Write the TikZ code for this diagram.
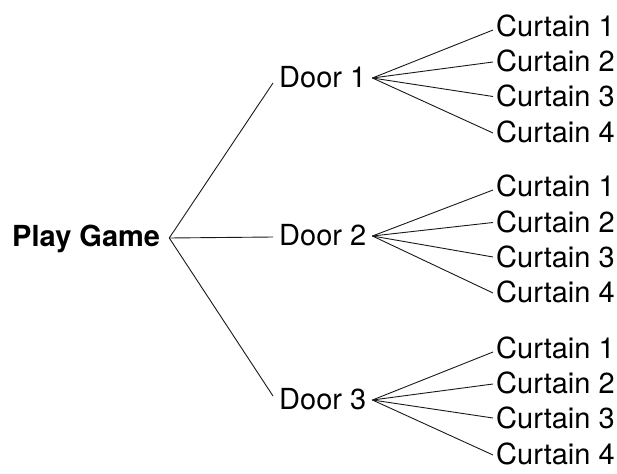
\documentclass[tikz,border=0pt]{standalone}
\usepackage{fontspec}
\setmainfont{TeX Gyre Heros}
\begin{document}
\begin{tikzpicture}[x=1pt,y=-1pt,
  lbl/.style={inner sep=0pt, anchor=west, text height=21pt, text depth=0pt, font=\fontsize{29}{31}\selectfont},
  rootlbl/.style={lbl, font=\fontsize{29}{31}\selectfont\bfseries},
  link/.style={line width=0.9pt, black!90}]
\useasboundingbox (0,0) rectangle (617,473);
\node[rootlbl] (play) at (12,236) {Play Game};
\node[lbl] (d1) at (279,77) {Door 1};
\node[lbl] (d2) at (279,235) {Door 2};
\node[lbl] (d3) at (279,399) {Door 3};
\coordinate (pf) at ([xshift=9pt,yshift=-2pt]play.east);
\draw[link] (pf) -- ([xshift=-6pt,yshift=-6pt]d1.west);
\draw[link] (pf) -- ([xshift=-6pt,yshift=-2pt]d2.west);
\draw[link] (pf) -- ([xshift=-6pt,yshift=3pt]d3.west);
% Door 1 curtains
\node[lbl] (c11) at (496,26) {Curtain 1};
\node[lbl] (c12) at (496,61) {Curtain 2};
\node[lbl] (c13) at (496,96.5) {Curtain 3};
\node[lbl] (c14) at (496,132) {Curtain 4};
% Door 2 curtains
\node[lbl] (c21) at (496,186) {Curtain 1};
\node[lbl] (c22) at (496,221.5) {Curtain 2};
\node[lbl] (c23) at (496,257) {Curtain 3};
\node[lbl] (c24) at (496,292) {Curtain 4};
% Door 3 curtains
\node[lbl] (c31) at (496,348) {Curtain 1};
\node[lbl] (c32) at (496,383) {Curtain 2};
\node[lbl] (c33) at (496,418) {Curtain 3};
\node[lbl] (c34) at (496,454) {Curtain 4};
\foreach \d in {1,2,3}{
  \coordinate (f\d) at ([xshift=6pt,yshift=-1pt]d\d.east);
  \draw[link] (f\d) -- ([xshift=-3pt,yshift=-4pt]c\d1.west);
  \draw[link] (f\d) -- ([xshift=-3pt,yshift=-1pt]c\d2.west);
  \draw[link] (f\d) -- ([xshift=-3pt]c\d3.west);
  \draw[link] (f\d) -- ([xshift=-3pt,yshift=-1pt]c\d4.west);
}
\end{tikzpicture}
\end{document}
